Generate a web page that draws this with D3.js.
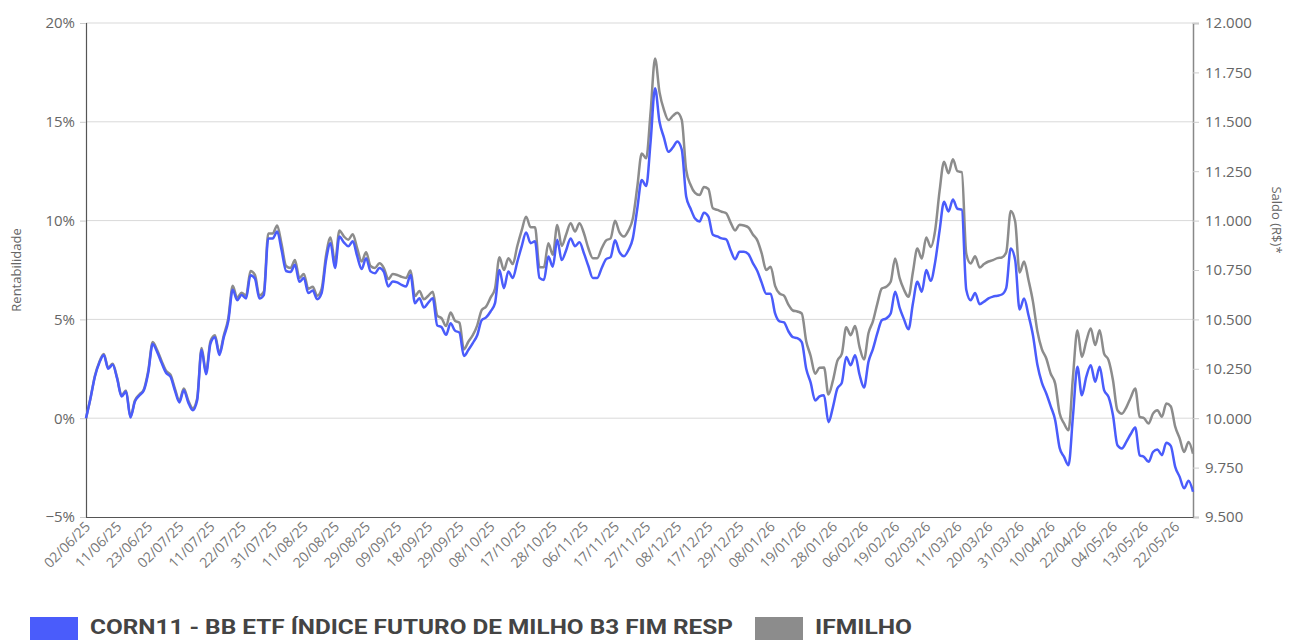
<!DOCTYPE html>
<html>
<head>
<meta charset="utf-8">
<script src="https://cdn.jsdelivr.net/npm/d3@7"></script>
<style>
  html, body { margin: 0; padding: 0; background: #fff; }
  svg { display: block; }
  text { font-family: "Open Sans", sans-serif; }
</style>
</head>
<body>
<svg id="chart" width="1289" height="640"></svg>
<script>
// ---- data ----
const tickLabels = ["02/06/25","11/06/25","23/06/25","02/07/25","11/07/25","22/07/25","31/07/25","11/08/25","20/08/25","29/08/25","09/09/25","18/09/25","29/09/25","08/10/25","17/10/25","28/10/25","06/11/25","17/11/25","27/11/25","08/12/25","17/12/25","29/12/25","08/01/26","19/01/26","28/01/26","06/02/26","19/02/26","02/03/26","11/03/26","20/03/26","31/03/26","10/04/26","22/04/26","04/05/26","13/05/26","22/05/26"];
const tickStep = 7; // trading days between labels

const seriesNames = ["CORN11 - BB ETF ÍNDICE FUTURO DE MILHO B3 FIM RESP", "IFMILHO"];

const corn11 = [
0.0,1.0,2.1,2.8,3.2,2.5,2.7,2.0,1.1,1.35,0.03,0.84,1.15,1.4,2.3,3.75,3.35,2.8,2.3,2.1,1.4,0.8,1.42,0.8,0.4,0.9,3.45,2.23,3.78,4.1,3.2,4.1,4.9,6.5,5.97,6.23,6.06,7.24,7.07,6.06,6.23,9.1,9.1,9.45,8.5,7.45,7.4,7.76,6.9,7.1,6.33,6.46,6.02,6.33,8.0,8.86,7.6,9.19,
8.9,8.7,8.95,8.2,7.55,8.1,7.43,7.34,7.6,7.4,6.67,6.92,6.87,6.75,6.67,7.25,5.82,6.07,5.6,5.85,6.07,4.7,4.6,4.22,4.8,4.43,4.33,3.15,3.45,3.8,4.2,4.96,5.1,5.4,5.82,7.5,6.58,7.43,7.1,7.9,8.7,9.4,8.86,8.95,7.1,7.0,8.18,7.67,9.03,8.0,8.5,9.1,8.7,8.9,8.35,7.7,
7.1,7.1,7.6,8.05,8.15,9.0,8.4,8.2,8.5,9.1,10.6,12.06,11.75,14.0,16.7,15.0,14.2,13.48,13.7,14.0,13.6,11.22,10.6,10.1,9.95,10.4,10.2,9.28,9.2,9.1,9.05,8.5,8.05,8.42,8.42,8.3,7.85,7.45,6.85,6.3,6.3,5.3,
4.9,4.85,4.4,4.1,4.05,3.85,2.5,1.8,0.9,1.1,1.16,-0.2,0.55,1.5,1.79,3.1,2.68,3.19,2.2,1.55,2.85,3.5,4.3,4.96,5.05,5.3,6.4,5.6,5.0,4.5,5.8,6.9,6.4,7.5,6.95,7.9,9.5,10.95,10.46,11.07,10.6,10.55,6.5,5.97,6.34,5.77,5.9,6.06,6.15,6.2,6.26,6.6,8.59,8.0,5.5,6.06,5.21,4.2,2.7,1.8,1.25,0.6,-0.1,-1.5,-1.96,-2.38,0.1,2.6,1.16,2.1,2.68,1.84,2.6,1.42,1.08,0.15,-1.37,-1.53,-1.2,-0.8,-0.47,-1.87,-1.96,-2.21,-1.71,-1.58,-1.87,-1.24,-1.4,-2.46,-2.97,-3.55,-3.17,-3.72
];

const ifmilho = [
0.0,1.0,2.15,2.85,3.25,2.55,2.75,2.05,1.15,1.4,0.08,0.9,1.2,1.45,2.4,3.85,3.45,2.9,2.4,2.2,1.5,0.9,1.5,0.9,0.5,1.0,3.55,2.35,3.9,4.2,3.3,4.2,5.05,6.7,6.1,6.35,6.2,7.45,7.25,6.2,6.4,9.35,9.35,9.75,8.8,7.7,7.6,8.0,7.1,7.3,6.55,6.65,6.2,6.55,8.25,9.15,7.9,9.5,
9.2,9.03,9.31,8.6,7.93,8.4,7.7,7.6,7.84,7.6,7.04,7.3,7.25,7.15,7.1,7.47,6.18,6.44,6.02,6.2,6.4,5.2,5.05,4.66,5.35,4.93,4.83,3.48,3.87,4.2,4.7,5.47,5.65,6.1,6.56,8.14,7.5,8.1,7.8,8.7,9.5,10.2,9.66,9.66,7.64,7.64,8.86,8.27,9.78,8.72,9.3,9.87,9.45,9.87,9.36,8.6,
8.1,8.1,8.6,9.0,9.1,9.99,9.4,9.19,9.5,10.1,11.7,13.4,13.15,15.5,18.2,16.5,15.6,15.09,15.3,15.46,15.1,12.56,11.8,11.4,11.29,11.7,11.6,10.62,10.54,10.45,10.37,9.9,9.5,9.79,9.75,9.65,9.3,9.0,8.33,7.5,7.67,6.7,
6.31,6.2,5.75,5.45,5.4,5.3,3.9,3.15,2.25,2.55,2.57,1.2,1.9,2.9,3.25,4.6,4.2,4.66,3.6,2.97,4.3,4.9,5.8,6.56,6.65,6.9,8.08,7.1,6.5,6.14,7.4,8.59,8.08,9.15,8.67,9.5,11.5,12.98,12.39,13.1,12.5,12.45,8.33,7.83,8.2,7.63,7.8,7.93,8.0,8.1,8.13,8.4,10.49,9.95,7.37,7.93,6.99,5.9,4.4,3.5,3.02,2.25,1.75,0.25,-0.27,-0.61,2.09,4.45,3.1,3.9,4.54,3.7,4.45,3.27,2.94,1.92,0.4,0.23,0.55,1.05,1.5,0.07,0.0,-0.27,0.23,0.4,0.07,0.74,0.6,-0.43,-1.02,-1.71,-1.2,-1.79
];

const leftTicks = [-5, 0, 5, 10, 15, 20];
const rightTicks = [9500, 9750, 10000, 10250, 10500, 10750, 11000, 11250, 11500, 11750, 12000];
const initialBalance = 10000;

// ---- layout ----
const W = 1289, H = 640;
const m = { left: 86, right: 1193, top: 23, bottom: 517 };
const colors = { corn: "#4a5cfb", ifm: "#8c8c8c" };

const svg = d3.select("#chart");

const N = corn11.length;
const x = d3.scaleLinear().domain([0, N - 1]).range([m.left, m.right]);
const y = d3.scaleLinear().domain([-5, 20]).range([m.bottom, m.top]);
const yR = d3.scaleLinear().domain([initialBalance * 0.95, initialBalance * 1.2]).range([m.bottom, m.top]);

// gridlines
svg.append("g")
  .selectAll("line")
  .data(leftTicks.filter(d => d > -5))
  .join("line")
  .attr("x1", m.left).attr("x2", m.right)
  .attr("y1", d => y(d)).attr("y2", d => y(d))
  .attr("stroke", "#d9d9d9").attr("stroke-width", 1);

// left axis
const yAxis = d3.axisLeft(y).tickValues(leftTicks).tickSize(6).tickPadding(5)
  .tickFormat(d => (d < 0 ? "\u2212" + Math.abs(d) : d) + "%");
const gL = svg.append("g").attr("transform", `translate(${m.left},0)`).call(yAxis);
gL.select(".domain").attr("stroke", "#555").attr("stroke-width", 1.2);
gL.selectAll(".tick line").attr("stroke", "#ccc");
gL.selectAll(".tick text").attr("fill", "#666").style("font-size", "15px").style("font-family", "Open Sans");

// right axis
const fmtLocale = d3.formatLocale({ decimal: ",", thousands: ".", grouping: [3], currency: ["R$", ""] });
const yAxisR = d3.axisRight(yR).tickValues(rightTicks).tickSize(6).tickPadding(6)
  .tickFormat(fmtLocale.format(","));
const gR = svg.append("g").attr("transform", `translate(${m.right},0)`).call(yAxisR);
gR.select(".domain").attr("stroke", "#888").attr("stroke-width", 1.5);
gR.selectAll(".tick line").attr("stroke", "#ccc");
gR.selectAll(".tick text").attr("fill", "#666").style("font-size", "15px").style("font-family", "Open Sans");

// bottom axis
const tickIdx = tickLabels.map((_, i) => i * tickStep);
const xAxis = d3.axisBottom(x).tickValues(tickIdx).tickSize(0).tickPadding(8)
  .tickFormat((d, i) => tickLabels[i]);
const gB = svg.append("g").attr("transform", `translate(0,${m.bottom})`).call(xAxis);
gB.select(".domain").attr("stroke", "#555").attr("stroke-width", 1.2);
gB.selectAll(".tick text")
  .attr("fill", "#777").style("font-size", "14px").style("font-family", "Open Sans")
  .attr("text-anchor", "end")
  .attr("dx", "-0.3em").attr("dy", "0.2em")
  .attr("transform", "rotate(-45)");

// lines
const line = d3.line().x((d, i) => x(i)).y(d => y(d)).curve(d3.curveMonotoneX);
svg.append("path").datum(ifmilho).attr("d", line)
  .attr("fill", "none").attr("stroke", colors.ifm).attr("stroke-width", 2.5).attr("stroke-linejoin", "round");
svg.append("path").datum(corn11).attr("d", line)
  .attr("fill", "none").attr("stroke", colors.corn).attr("stroke-width", 2.5).attr("stroke-linejoin", "round");

// axis titles
svg.append("text").attr("transform", `translate(21,270) rotate(-90)`)
  .attr("text-anchor", "middle").attr("fill", "#666").style("font-size", "13px")
  .text("Rentabilidade");
svg.append("text").attr("transform", `translate(1272,220) rotate(90)`)
  .attr("text-anchor", "middle").attr("fill", "#666").style("font-size", "13px")
  .text("Saldo (R$)*");

// legend
const legend = [
  { name: seriesNames[0], color: colors.corn, rx: 30, tx: 90, tw: 643 },
  { name: seriesNames[1], color: colors.ifm, rx: 755, tx: 815, tw: 97 }
];
const lg = svg.append("g");
legend.forEach(l => {
  lg.append("rect").attr("x", l.rx).attr("y", 617).attr("width", 48).attr("height", 23).attr("fill", l.color);
  lg.append("text").attr("x", l.tx).attr("y", 634)
    .attr("fill", "#444").style("font-family", "Roboto").style("font-weight", "bold").style("font-size", "21px")
    .attr("textLength", l.tw).attr("lengthAdjust", "spacingAndGlyphs")
    .text(l.name);
});
</script>
</body>
</html>
